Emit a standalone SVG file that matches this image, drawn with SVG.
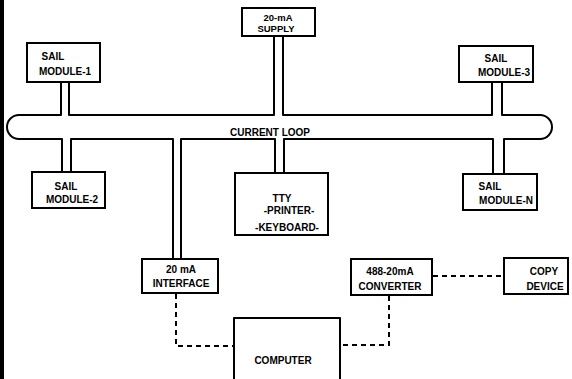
<svg xmlns="http://www.w3.org/2000/svg" width="572" height="379" viewBox="0 0 572 379">
<style>
.box{fill:#fff;stroke:#000;stroke-width:2}
.ln{fill:none;stroke:#000;stroke-width:2;stroke-linejoin:round}
.dash{fill:none;stroke:#000;stroke-width:2;stroke-dasharray:5,4}
text{font-family:"Liberation Sans",Arial,sans-serif;font-weight:bold;font-size:10px;text-anchor:middle;fill:#000}
</style>
<rect x="0" y="0" width="572" height="379" fill="#fff"/>
<rect x="0" y="0" width="4" height="379" fill="#000"/>
<g id="connectors">
<path class="ln" d="M61,82 V115 H19 A12,12 0 0 0 19,139 H62 V172 M71,172 V139 H173 V259 M181,259 V139 H275 V173 M284,173 V139 H493 V174 M504,174 V139 H540 A12,12 0 0 0 540,115 H502 V82 M492,82 V115 H283 V36 M274,36 V115 H69 V82"/>
<text x="270" y="136">CURRENT LOOP</text>
<path class="dash" d="M176,294 V346 H234"/>
<path class="dash" d="M389,296 V345 H340"/>
<path class="dash" d="M433,276 H504"/>
</g>
<g id="sail1"><rect class="box" x="27" y="43" width="73" height="39"/><text x="53" y="60">SAIL</text><text x="65" y="75">MODULE-1</text></g>
<g id="supply"><rect class="box" x="242" y="8" width="73" height="28"/><text x="278" y="21" style="font-size:9.5px">20-mA</text><text x="276" y="32" style="font-size:9.5px">SUPPLY</text></g>
<g id="sail3"><rect class="box" x="459" y="46" width="74" height="36"/><text x="496" y="62">SAIL</text><text x="504" y="76">MODULE-3</text></g>
<g id="sail2"><rect class="box" x="32" y="172" width="73" height="36"/><text x="66" y="190">SAIL</text><text x="72" y="203">MODULE-2</text></g>
<g id="tty"><rect class="box" x="235" y="173" width="93" height="62"/><text x="282" y="202">TTY</text><text x="289" y="214">-PRINTER-</text><text x="287" y="231">-KEYBOARD-</text></g>
<g id="sailn"><rect class="box" x="463" y="174" width="74" height="36"/><text x="490" y="190">SAIL</text><text x="506" y="204">MODULE-N</text></g>
<g id="interface"><rect class="box" x="142" y="259" width="76" height="34"/><text x="181" y="273">20 mA</text><text x="181" y="287">INTERFACE</text></g>
<g id="converter"><rect class="box" x="351" y="259" width="81" height="36"/><text x="390" y="275">488-20mA</text><text x="390" y="290">CONVERTER</text></g>
<g id="copy"><rect class="box" x="504" y="258" width="64" height="36"/><text x="544" y="275">COPY</text><text x="545" y="290">DEVICE</text></g>
<g id="computer"><path class="ln" d="M234,381 V318 H340 V381" fill="#fff"/><text x="283" y="364">COMPUTER</text></g>
</svg>
